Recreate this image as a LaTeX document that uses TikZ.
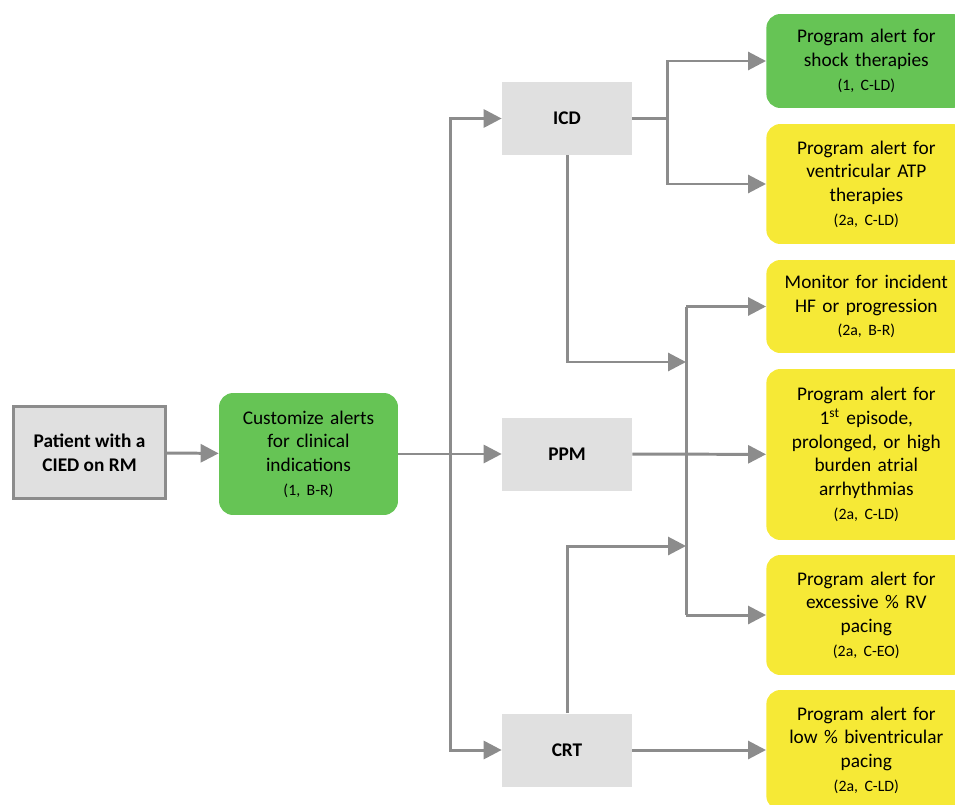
\documentclass[tikz,border=0pt]{standalone}
\usepackage{fontspec}
\setmainfont{Carlito}
\usetikzlibrary{arrows.meta,positioning,calc}
\definecolor{boxgray}{HTML}{E0E0E0}
\definecolor{linegray}{HTML}{8C8C8C}
\definecolor{alertgreen}{HTML}{66C455}
\definecolor{alertyellow}{HTML}{F6E936}
\newcommand{\evid}[1]{{\fontsize{9}{11.5}\selectfont #1}}
\frenchspacing

\begin{document}
\begin{tikzpicture}[
  x=0.02cm, y=-0.02cm,
  device/.style={fill=boxgray, minimum width=2.6cm, minimum height=1.46cm, font=\fontsize{11}{13.5}\selectfont\bfseries},
  alert/.style={rounded corners=8pt, align=center, text width=3.7cm, minimum width=4cm, anchor=west, inner sep=2pt, font=\fontsize{11}{13.5}\selectfont},
  line/.style={draw=linegray, line width=1.7pt},
  arrow/.style={line, -{Triangle[length=3.6mm, width=3.6mm]}}
]
\useasboundingbox (0,0) rectangle (955,804);

\node[fill=boxgray, draw=linegray, line width=1.7pt, minimum width=3.04cm, minimum height=1.84cm, align=center, font=\fontsize{11}{13.5}\selectfont\bfseries] (patient) at (89.5,452.5) {Patient with a\\CIED on RM};
\node[alert, fill=alertgreen, anchor=center, text width=3.3cm, minimum width=3.58cm, minimum height=2.44cm] (custom) at (308.5,454) {Customize alerts\\for clinical\\indications\\\evid{(1, B-R)}};

\node[device] (icd) at (567,118.5) {ICD};
\node[device] (ppm) at (567,454) {PPM};
\node[device] (crt) at (567,750) {CRT};

\node[alert, fill=alertgreen, minimum height=1.88cm] (shock) at (766,61) {Program alert for\\shock therapies\\\evid{(1, C-LD)}};
\node[alert, fill=alertyellow, minimum height=2.4cm] (atp) at (766,184) {Program alert for\\ventricular ATP\\therapies\\\evid{(2a, C-LD)}};
\node[alert, fill=alertyellow, minimum height=1.86cm] (monitor) at (766,306.5) {Monitor for incident\\HF or progression\\\evid{(2a, B-R)}};
\node[alert, fill=alertyellow, minimum height=3.42cm] (atrial) at (766,454.5) {Program alert for\\1\textsuperscript{st} episode,\\prolonged, or high\\burden atrial\\arrhythmias\\\evid{(2a, C-LD)}};
\node[alert, fill=alertyellow, minimum height=2.4cm] (rvpace) at (766,615) {Program alert for\\excessive \% RV\\pacing\\\evid{(2a, C-EO)}};
\node[alert, fill=alertyellow, minimum height=2.4cm] (bivpace) at (766,750) {Program alert for\\low \% biventricular\\pacing\\\evid{(2a, C-LD)}};

\coordinate (split) at (450,454);
\coordinate (icdsplit) at (667,118.5);
\coordinate (bustop) at (686,306.5);
\coordinate (busbot) at (686,615);
\coordinate (icdin) at (686,362);
\coordinate (crtin) at (686,546);

\draw[arrow] (patient) -- (custom);
\draw[line] (custom.east) -- (split);
\draw[arrow] (split) |- (icd.west);
\draw[arrow] (split) -- (ppm);
\draw[arrow] (split) |- (crt.west);

\draw[line] (icd.east) -- (icdsplit);
\draw[arrow] (icdsplit) |- (shock.west);
\draw[arrow] (icdsplit) |- (atp.west);

\draw[arrow] (icd.south) |- (icdin);
\draw[arrow] (crt.north) |- (crtin);
\draw[line] (bustop) -- (busbot);
\draw[arrow] (bustop) -- (monitor.west);
\draw[arrow] (busbot) -- (rvpace.west);
\draw[arrow] (ppm) -- (atrial);
\draw[arrow] (crt) -- (bivpace);
\end{tikzpicture}
\end{document}
